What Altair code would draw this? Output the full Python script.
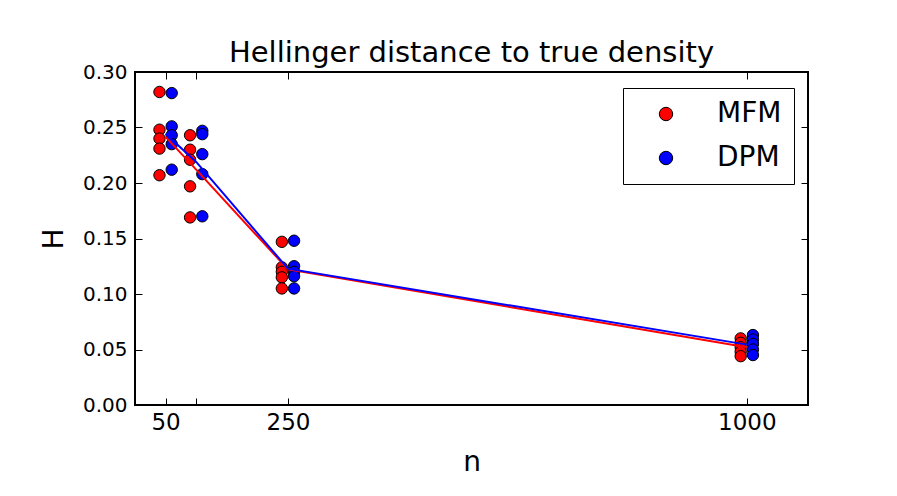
import altair as alt
import pandas as pd

# ---- data ----
n_values = [50, 100, 250, 1000]
tick_values_x = [50, 100, 250, 1000]
tick_values_y = [0, 0.05, 0.10, 0.15, 0.20, 0.25, 0.30]
methods = ["MFM", "DPM"]

mfm_50 = [0.282, 0.248, 0.240, 0.231, 0.207]
mfm_100 = [0.243, 0.230, 0.221, 0.197, 0.169]
mfm_250 = [0.147, 0.124, 0.120, 0.115, 0.105]
mfm_1000 = [0.060, 0.056, 0.052, 0.048, 0.044]

dpm_50 = [0.281, 0.251, 0.243, 0.235, 0.212]
dpm_100 = [0.247, 0.244, 0.226, 0.208, 0.170]
dpm_250 = [0.148, 0.125, 0.120, 0.116, 0.105]
dpm_1000 = [0.063, 0.059, 0.055, 0.050, 0.045]

mfm_series = [mfm_50, mfm_100, mfm_250, mfm_1000]
dpm_series = [dpm_50, dpm_100, dpm_250, dpm_1000]

rows = []
for method, series in (("MFM", mfm_series), ("DPM", dpm_series)):
    for n, vals in zip(n_values, series):
        for v in vals:
            rows.append({"n": n, "H": v, "method": method})
df = pd.DataFrame(rows)

FONT = "DejaVu Sans"
W, H = 673, 333
TICK = 7

xscale = alt.Scale(domain=[0, 1100], nice=False, zero=False)
yscale = alt.Scale(domain=[0, 0.30], nice=False)
color = alt.Color(
    "method:N",
    scale=alt.Scale(domain=methods, range=["#ff0000", "#0000ff"]),
    legend=alt.Legend(
        title=None,
        orient="none",
        legendX=488,
        legendY=16,
        direction="vertical",
        symbolType="circle",
        symbolSize=180,
        symbolStrokeColor="black",
        symbolStrokeWidth=1,
        symbolOffset=17,
        labelFont=FONT,
        labelFontSize=28,
        labelColor="black",
        labelOffset=37,
        rowPadding=16,
        padding=12,
        strokeColor="black",
        fillColor="white",
        cornerRadius=0,
    ),
)

offset_expr = "datum.method === 'MFM' ? datum.n - 10 : datum.n + 10"

points = (
    alt.Chart(df)
    .transform_calculate(xpos=offset_expr)
    .mark_point(filled=True, size=130, stroke="black", strokeWidth=1, opacity=1)
    .encode(
        x=alt.X(
            "xpos:Q",
            scale=xscale,
            axis=alt.Axis(
                orient="bottom",
                values=tick_values_x,
                labelExpr="datum.value == 100 ? '' : datum.label",
                format="d",
                offset=-TICK,
                tickSize=TICK,
                tickColor="black",
                domain=False,
                grid=False,
                labelPadding=6,
                labelFont=FONT,
                labelFontSize=23,
                labelColor="black",
                title="n",
                titleFont=FONT,
                titleFontSize=28,
                titleFontWeight="normal",
                titleColor="black",
                titlePadding=14,
            ),
        ),
        y=alt.Y(
            "H:Q",
            scale=yscale,
            axis=alt.Axis(
                orient="left",
                values=tick_values_y,
                format=".2f",
                offset=-TICK,
                tickSize=TICK,
                tickColor="black",
                domain=False,
                grid=False,
                labelPadding=8,
                labelFont=FONT,
                labelFontSize=20,
                labelColor="black",
                title="H",
                titleFont=FONT,
                titleFontSize=28,
                titleFontWeight="normal",
                titleColor="black",
                titlePadding=14,
            ),
        ),
        color=color,
    )
)

line_base = alt.Chart(df).mark_line(strokeWidth=2)

line_mfm = (
    line_base.transform_filter("datum.method === 'MFM'")
    .encode(
        x=alt.X(
            "n:Q",
            scale=xscale,
            axis=alt.Axis(
                orient="top",
                values=tick_values_x,
                offset=-TICK,
                tickSize=TICK,
                tickColor="black",
                domain=False,
                grid=False,
                labels=False,
                title=None,
            ),
        ),
        y=alt.Y(
            "mean(H):Q",
            scale=yscale,
            axis=alt.Axis(
                orient="right",
                values=tick_values_y,
                offset=-TICK,
                tickSize=TICK,
                tickColor="black",
                domain=False,
                grid=False,
                labels=False,
                title=None,
            ),
        ),
        color=alt.value("#ff0000"),
    )
)

line_dpm = (
    line_base.transform_filter("datum.method === 'DPM'")
    .encode(
        x=alt.X("n:Q", scale=xscale, axis=None),
        y=alt.Y("mean(H):Q", scale=yscale, axis=None),
        color=alt.value("#0000ff"),
    )
)

chart = (
    alt.layer(points, line_mfm, line_dpm)
    .resolve_axis(x="independent", y="independent")
    .properties(
        width=W,
        height=H,
        title=alt.TitleParams(
            "Hellinger distance to true density",
            font=FONT,
            fontSize=29,
            fontWeight="normal",
            color="black",
            anchor="middle",
            baseline="alphabetic",
            offset=-29,
        ),
        autosize=alt.AutoSizeParams(type="none"),
        padding={"left": 127, "top": 64, "right": 70, "bottom": 78},
        background="white",
    )
    .configure_view(stroke="black", strokeWidth=2, strokeOpacity=1)
)

chart.save("out.html", embed_options={"renderer": "svg", "actions": False})
